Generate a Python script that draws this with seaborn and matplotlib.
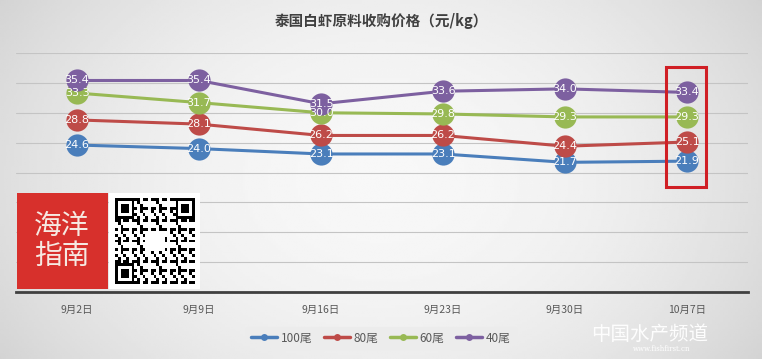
import numpy as np
import pandas as pd
import matplotlib
matplotlib.use("Agg")
import matplotlib.pyplot as plt
from matplotlib.patches import Rectangle
import seaborn as sns

# data
dates = ["9月2日", "9月9日", "9月16日", "9月23日", "9月30日", "10月7日"]
s100 = [24.6, 24.0, 23.1, 23.1, 21.7, 21.9]
s80 = [28.8, 28.1, 26.2, 26.2, 24.4, 25.1]
s60 = [33.3, 31.7, 30.0, 29.8, 29.3, 29.3]
s40 = [35.4, 35.4, 31.5, 33.6, 34.0, 33.4]
series_names = ["100尾", "80尾", "60尾", "40尾"]
colors = ["#4a7ebb", "#be4b48", "#98b954", "#7d60a0"]

rows = []
for name, vals in zip(series_names, [s100, s80, s60, s40]):
    for i, v in enumerate(vals):
        rows.append({"x": i, "date": dates[i], "price": v, "size": name})
df = pd.DataFrame(rows)

sns.set_style("white")
plt.rcParams["font.family"] = ["Noto Sans CJK SC", "DejaVu Sans"]

fig = plt.figure(figsize=(7.62, 3.59), dpi=100)

# gray gradient background
bg = fig.add_axes([0, 0, 1, 1], zorder=-10)
xx = np.linspace(-1, 1, 300)
yy = np.linspace(-1, 1, 150)
X, Y = np.meshgrid(xx, yy)
grad = 0.97 - 0.10 * (X ** 2) - 0.04 * (Y ** 2)
bg.imshow(grad, cmap="gray", vmin=0, vmax=1, aspect="auto", extent=[0, 1, 0, 1])
bg.axis("off")

ax = fig.add_axes([16 / 762, 1 - 292 / 359, (748 - 16) / 762, (292 - 53) / 359])
ax.patch.set_alpha(0)

sns.lineplot(data=df, x="x", y="price", hue="size", hue_order=series_names,
             palette=colors, linewidth=2.2, marker="o", markersize=16,
             markeredgewidth=0, ax=ax, legend=True, zorder=3)

# value labels inside the markers
for _, r in df.iterrows():
    ax.text(r["x"], r["price"], f"{r['price']:.1f}", color="white", fontsize=8,
            ha="center", va="center", zorder=5, family=["DejaVu Sans"])

ax.set_xlim(-0.5, 5.5)
ax.set_ylim(0, 40)
ax.set_yticks(np.arange(0, 41, 5))
ax.set_yticklabels([])
ax.tick_params(axis="y", length=0)
ax.set_xticks(range(len(dates)))
ax.set_xticklabels(dates, fontsize=7.5, color="#595959")
ax.tick_params(axis="x", length=0, pad=9)
ax.yaxis.grid(True, color="#c4c4c4", linewidth=0.8)
ax.set_axisbelow(True)
ax.set_xlabel("")
ax.set_ylabel("")
for side in ["top", "right", "left"]:
    ax.spines[side].set_visible(False)
ax.spines["bottom"].set_color("#404040")
ax.spines["bottom"].set_linewidth(2)

# legend at the bottom
handles, labels = ax.get_legend_handles_labels()
ax.get_legend().remove()
for h in handles:
    h.set_markersize(5)
    h.set_linewidth(2.5)
leg = fig.legend(handles, labels, loc="center", bbox_to_anchor=(0.5, 1 - 338 / 359),
                 ncol=4, frameon=True, fontsize=8.5, handlelength=2.2, columnspacing=1.0,
                 handletextpad=0.3, borderpad=0.4)
leg.get_frame().set_facecolor("#ececec")
leg.get_frame().set_edgecolor("#ececec")
for t in leg.get_texts():
    t.set_color("#595959")

fig.text(0.5, 1 - 21 / 359, "泰国白虾原料收购价格（元/kg）", ha="center", va="center",
         fontsize=10.5, fontweight="bold", color="#404040")

# red highlight box around the last week
ax_box = Rectangle((666 / 762, 1 - 187 / 359), 40 / 762, 120 / 359, transform=fig.transFigure,
                   fill=False, edgecolor="#d01f25", linewidth=2.2, zorder=20)
fig.patches.append(ax_box)

# logo and QR code overlay
fig.patches.append(Rectangle((17 / 762, 1 - 289 / 359), 91 / 762, 96 / 359,
                             transform=fig.transFigure, facecolor="#d7302c",
                             edgecolor="none", zorder=20))
fig.text(62 / 762, 1 - 241 / 359, "海洋\n指南", ha="center", va="center", fontsize=20,
         color="#f6e9e2", linespacing=1.0, zorder=21)
fig.patches.append(Rectangle((109 / 762, 1 - 289 / 359), 91 / 762, 96 / 359,
                             transform=fig.transFigure, facecolor="white",
                             edgecolor="none", zorder=20))
qr = fig.add_axes([115 / 762, 1 - 284 / 359, 80 / 762, 86 / 359], zorder=21)
n = 29
ii, jj = np.meshgrid(np.arange(n), np.arange(n))
pattern = (((ii * ii + jj * 3 + ii * jj * 5) % 7) < 3).astype(float)
for (r0, c0) in [(0, 0), (0, n - 7), (n - 7, 0)]:
    pattern[r0:r0 + 7, c0:c0 + 7] = 1
    pattern[r0 + 1:r0 + 6, c0 + 1:c0 + 6] = 0
    pattern[r0 + 2:r0 + 5, c0 + 2:c0 + 5] = 1
pattern[11:18, 11:18] = 0
qr.imshow(1 - pattern, cmap="gray", vmin=0, vmax=1, aspect="auto", interpolation="nearest")
qr.axis("off")

# watermark
fig.text(650 / 762, 1 - 334 / 359, "中国水产频道", ha="center", va="center", fontsize=14,
         color="white", style="italic", alpha=0.95)
fig.text(662 / 762, 1 - 349 / 359, "www.fishfirst.cn", ha="center", va="center",
         fontsize=5, color="white", family=["DejaVu Serif"])

fig.savefig("out.png", dpi=100)
